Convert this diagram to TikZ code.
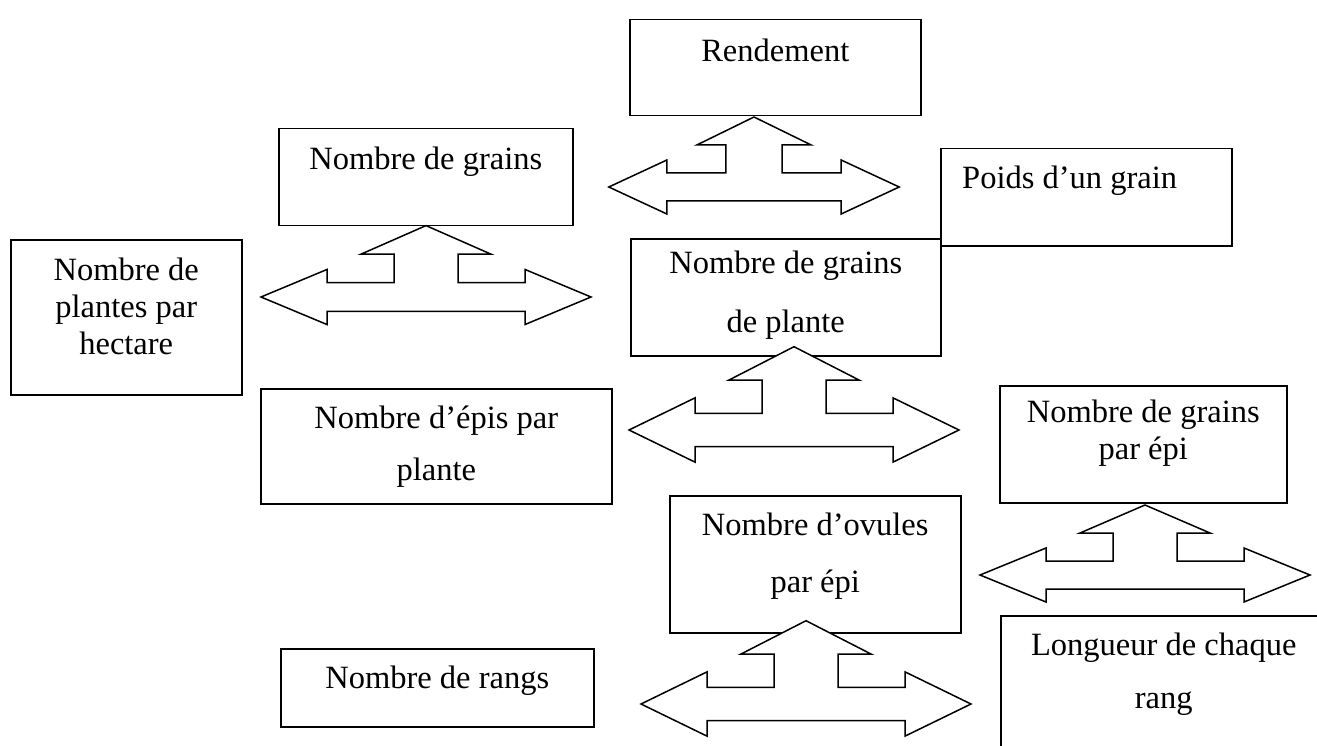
\documentclass[tikz,border=0pt]{standalone}
\usepackage{fontspec}
\setmainfont{Liberation Serif}
\usetikzlibrary{positioning}

\begin{document}
\begin{tikzpicture}[
  x=1pt, y=-1pt,
  box/.style={draw, line width=1.5pt, inner sep=0pt, anchor=north west},
  txt/.style={align=center, inner sep=0pt, font=\fontsize{32.5}{37}\selectfont},
  tee/.pic={\draw[line width=1.5pt, fill=white]
    (0,-70) -- (65,-42) -- (32,-42) -- (32,-14) -- (99,-14) -- (99,-27)
    -- (165,0) -- (99,27) -- (99,14) -- (-99,14) -- (-99,27) -- (-165,0)
    -- (-99,-27) -- (-99,-14) -- (-32,-14) -- (-32,-42) -- (-65,-42) -- cycle;}
]
\clip (0,0) rectangle (1317,746);
\fill[white] (0,0) rectangle (1317,746);

% boxes
\node[box, minimum width=291pt, minimum height=96pt]  (rend)     at (629,19)   {};
\node[box, minimum width=294pt, minimum height=97pt]  (grains)   at (278,128)  {};
\node[box, minimum width=291pt, minimum height=97pt]  (poids)    at (940,148)  {};
\node[box, minimum width=231pt, minimum height=155pt] (plantes)  at (10,239)   {};
\node[box, minimum width=310pt, minimum height=117pt] (grplante) at (630,238)  {};
\node[box, minimum width=351pt, minimum height=115pt] (epis)     at (260,388)  {};
\node[box, minimum width=287pt, minimum height=117pt] (grepi)    at (999,385)  {};
\node[box, minimum width=291pt, minimum height=137pt] (ovules)   at (669,495)  {};
\node[box, minimum width=313pt, minimum height=78pt]  (rangs)    at (280,648)  {};
\node[box, minimum width=326pt, minimum height=175pt] (longueur) at (1000,615) {};

% texts
\node[txt, below=19.8pt of rend.north]     (rend-t)     {Rendement};
\node[txt, below=18.8pt of grains.north]   (grains-t)   {Nombre de grains};
\node[txt, below right=17.8pt and 22pt of poids.north west] (poids-t) {Poids d’un grain};
\node[txt, below=18.8pt of plantes.north]  (plantes-t)  {Nombre de\\plantes par\\hectare};
\node[txt, below=12.8pt of grplante.north] (grplante-t) {Nombre de grains\\[22pt]de plante};
\node[txt, below=17.8pt of epis.north]     (epis-t)     {Nombre d’épis par\\[15pt]plante};
\node[txt, below=14.8pt of grepi.north]    (grepi-t)    {Nombre de grains\\par épi};
\node[txt, below=17.8pt of ovules.north]   (ovules-t)   {Nombre d’ovules\\[20pt]par épi};
\node[txt, below=17.8pt of rangs.north]    (rangs-t)    {Nombre de rangs};
\node[txt, below=17.8pt of longueur.north] (longueur-t) {Longueur de chaque\\[16pt]rang};

% three-way arrows
\pic[xscale=0.88]  at (754,187) {tee};
\pic[yscale=1.02]  at (426,297) {tee};
\pic[yscale=1.19]  at (794,430) {tee};
\pic               at (1145,575) {tee};
\pic[yscale=1.19]  at (806,704) {tee};
\end{tikzpicture}
\end{document}
